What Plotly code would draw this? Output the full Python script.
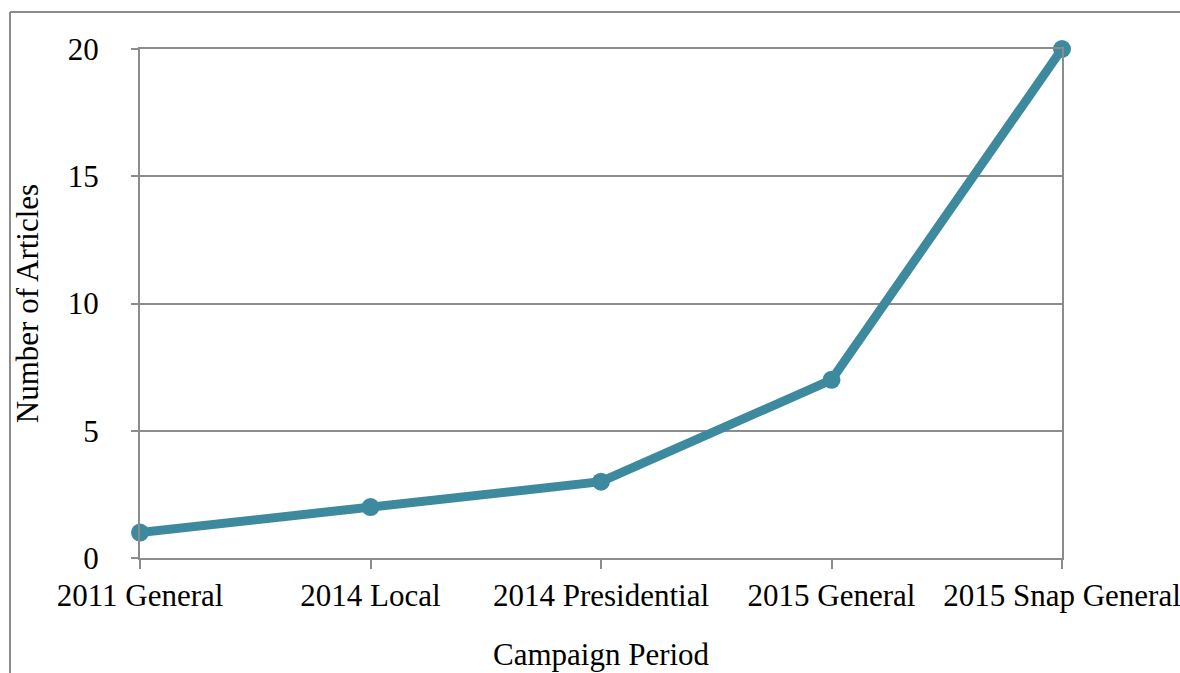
import plotly.graph_objects as go

categories = ["2011 General", "2014 Local", "2014 Presidential", "2015 General", "2015 Snap General"]
articles = [1, 2, 3, 7, 20]
y_ticks = [0, 5, 10, 15, 20]
x_title = "Campaign Period"
y_title = "Number of Articles"

W, H = 1180, 673
L, R, T, B = 140, 118, 49, 115
pw, ph = W - L - R, H - T - B

LINE_COL = "#3D8A9E"
GRID = "#8C8C8C"
FONT = "Liberation Serif, Times New Roman, serif"

fig = go.Figure()
fig.add_trace(go.Scatter(
    x=list(range(len(categories))), y=articles, mode="lines+markers",
    line=dict(color=LINE_COL, width=9),
    marker=dict(color=LINE_COL, size=18),
    cliponaxis=False, showlegend=False,
))

def px_to_paper_x(px):
    return (px - L) / pw

def px_to_paper_y(py):
    return (H - B - py) / ph

bx = px_to_paper_x(10)
by = px_to_paper_y(12)
fig.add_shape(type="line", xref="paper", yref="paper", x0=bx, x1=bx, y0=by, y1=px_to_paper_y(700),
              line=dict(color="#8C8C8C", width=2))
fig.add_shape(type="line", xref="paper", yref="paper", x0=bx, x1=px_to_paper_x(1200), y0=by, y1=by,
              line=dict(color="#8C8C8C", width=2))

fig.add_annotation(text=x_title, xref="paper", yref="paper", x=0.5, y=px_to_paper_y(654),
                   xanchor="center", yanchor="middle", showarrow=False,
                   font=dict(family=FONT, size=31, color="black"))

fig.update_layout(
    width=W, height=H,
    margin=dict(l=L, r=R, t=T, b=B, pad=0),
    paper_bgcolor="white", plot_bgcolor="white",
    font=dict(family=FONT, size=31, color="black"),
    xaxis=dict(
        range=[0, len(categories) - 1], automargin=False,
        tickmode="array", tickvals=list(range(len(categories))), ticktext=categories,
        showgrid=False, zeroline=False,
        showline=True, linecolor=GRID, linewidth=2, mirror=True,
        ticks="outside", ticklen=9, tickwidth=2, tickcolor=GRID,
        tickfont=dict(size=31), ticklabeloverflow="allow",
    ),
    yaxis=dict(
        range=[0, 20], automargin=False,
        tickmode="array", tickvals=y_ticks,
        showgrid=True, gridcolor=GRID, gridwidth=2, zeroline=False,
        showline=True, linecolor=GRID, linewidth=2, mirror=True,
        ticks="outside", ticklen=7, tickwidth=2, tickcolor=GRID,
        tickfont=dict(size=31), ticklabelstandoff=26,
        title=dict(text=y_title, font=dict(size=31), standoff=20),
    ),
)

fig.write_html("out.html")
